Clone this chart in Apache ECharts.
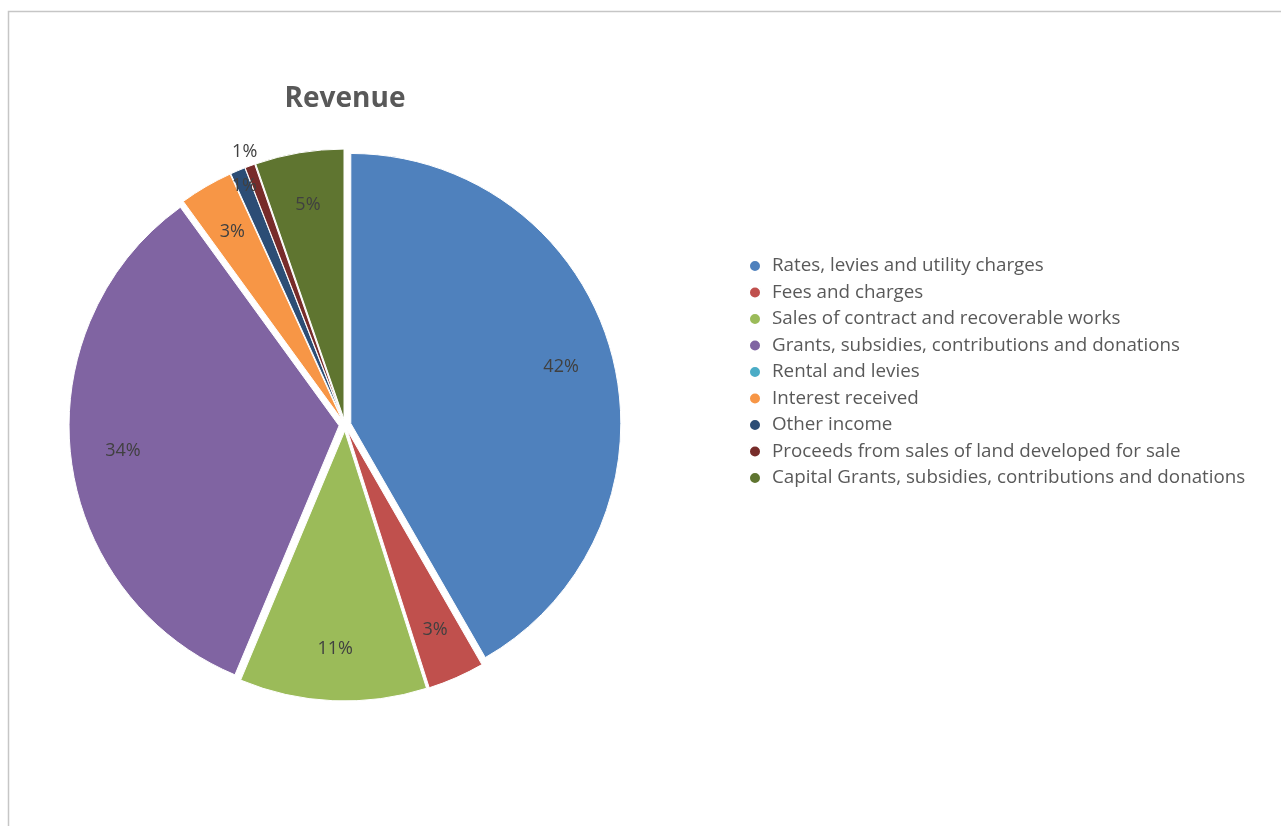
<!DOCTYPE html>
<html>
<head>
<meta charset="utf-8">
<script src="https://cdn.jsdelivr.net/npm/echarts@6/dist/echarts.min.js"></script>
<style>
html,body{margin:0;padding:0;background:#fff;}
#c{width:1281px;height:826px;}
</style>
</head>
<body>
<div id="c"></div>
<script>
const categories = [
  "Rates, levies and utility charges",
  "Fees and charges",
  "Sales of contract and recoverable works",
  "Grants, subsidies, contributions and donations",
  "Rental and levies",
  "Interest received",
  "Other income",
  "Proceeds from sales of land developed for sale",
  "Capital Grants, subsidies, contributions and donations"
];
const shares = [41.7, 3.4, 11.2, 33.7, 0, 3.2, 0.9, 0.6, 5.3];
const colors = ["#4F81BD","#C0504D","#9BBB59","#8064A2","#4BACC6","#F79646","#2C4D75","#772C2A","#5F7530"];
const titleText = "Revenue";

const total = shares.reduce((a,b)=>a+b,0);
const cx = 345, cy = 425, R = 270, OFF = 6;
const FONT = 'Open Sans, Lato, sans-serif';
const fmt = (p)=>Math.round(p.value/total*100)+'%';

// which label ring draws each label: 0 = inside, 1/2 = outer best-fit spots for tiny slices, -1 = none
const labelRing = [0,0,0,0,-1,0,1,2,0];

const pieData = categories.map((n,i)=>({
  name:n, value:shares[i], selected:true,
  itemStyle:{color:colors[i]}
}));
function ringData(ring){
  return categories.map((n,i)=>({
    name:n, value:shares[i], selected:true,
    label:{show: labelRing[i]===ring}
  }));
}
function labelSeries(ring, r0, r1){
  return {
    type:'pie', name:'labels'+ring, silent:true,
    center:[cx,cy], radius:[r0, r1],
    startAngle:90, clockwise:true,
    selectedMode:'multiple', selectedOffset:OFF,
    avoidLabelOverlap:false,
    itemStyle:{color:'rgba(0,0,0,0)', borderWidth:0},
    label:{show:true, position:'inside', formatter:fmt, overflow:'none', width:null,
      fontFamily:FONT, fontSize:18, color:'#404040'},
    labelLine:{show:false},
    emphasis:{disabled:true},
    data:ringData(ring)
  };
}

const chart = echarts.init(document.getElementById('c'), null, {renderer:'canvas'});
chart.setOption({
  backgroundColor:'#ffffff',
  animation:false,
  color: colors,
  title:{
    text:titleText, left:cx-5, top:80, textAlign:'center',
    textStyle:{fontFamily:FONT, fontSize:28, fontWeight:'bold', color:'#595959'}
  },
  legend:{
    orient:'vertical', left:743, top:251,
    icon:'circle', itemWidth:12, itemHeight:12, itemGap:6.5,
    selectedMode:false,
    data:categories,
    textStyle:{fontFamily:FONT, fontSize:18.8, color:'#595959', lineHeight:20, padding:[0,0,0,6]}
  },
  graphic:[{
    type:'polyline', silent:true,
    shape:{points:[[8.5,826],[8.5,11.5],[1281,11.5]]},
    style:{stroke:'#c6c6c6', lineWidth:1.5, fill:null}
  }],
  series:[
    {
      type:'pie', name:'Revenue',
      center:[cx,cy], radius:[0,R],
      startAngle:90, clockwise:true,
      selectedMode:'multiple', selectedOffset:OFF,
      minAngle:0, avoidLabelOverlap:false,
      stillShowZeroSum:false,
      itemStyle:{borderColor:'#ffffff', borderWidth:1},
      label:{show:false}, labelLine:{show:false},
      emphasis:{disabled:true},
      data:pieData
    },
    labelSeries(0, R*0.60, R*0.99),
    labelSeries(1, 232, 268),
    labelSeries(2, 266, 298)
  ]
});
</script>
</body>
</html>
